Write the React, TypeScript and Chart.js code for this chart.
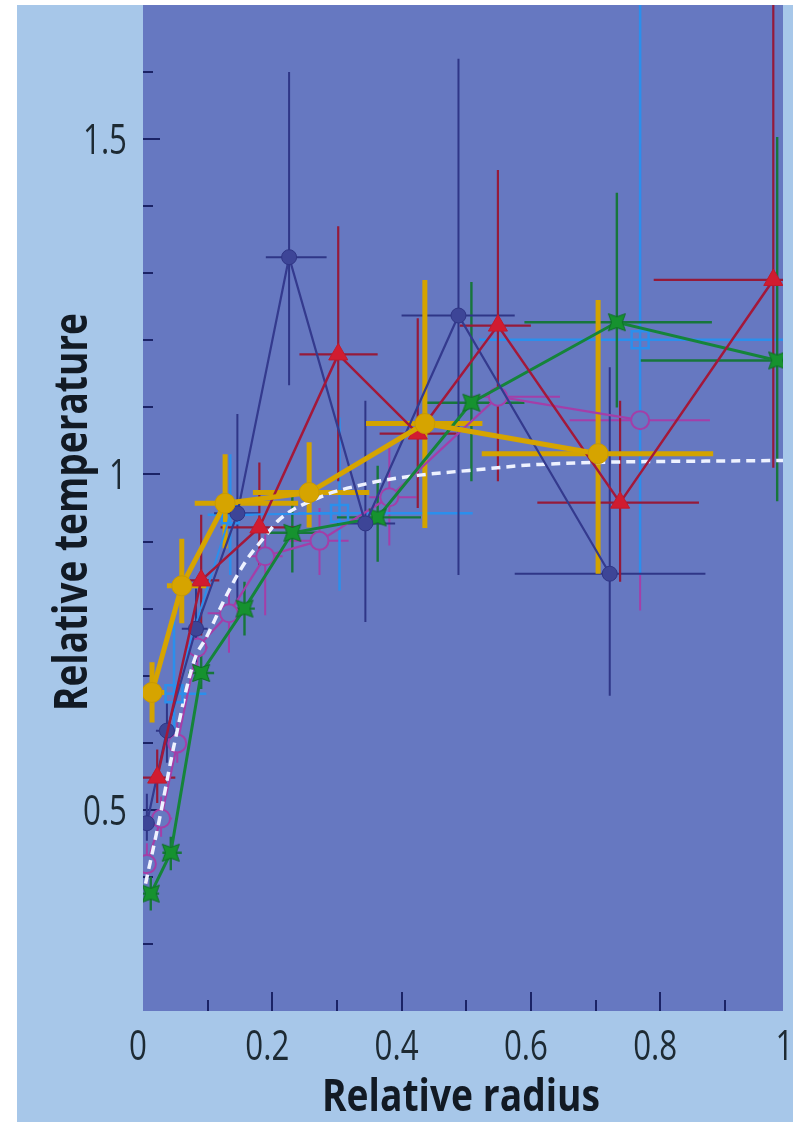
import { useEffect, useRef } from 'react';
import { Chart, registerables } from 'chart.js';

Chart.register(...registerables);

// Profile A (navy filled circles)
const navyR = [0.006, 0.037, 0.082, 0.146, 0.226, 0.344, 0.488, 0.722];
const navyT = [0.48, 0.618, 0.77, 0.942, 1.324, 0.927, 1.237, 0.852];
const navyRLo = [0.0, 0.02, 0.06, 0.11, 0.19, 0.3, 0.4, 0.575];
const navyRHi = [0.036, 0.055, 0.1, 0.18, 0.284, 0.39, 0.575, 0.87];
const navyTLo = [0.454, 0.57, 0.72, 0.81, 1.133, 0.78, 0.85, 0.67];
const navyTHi = [0.524, 0.66, 0.83, 1.09, 1.6, 1.11, 1.62, 1.16];

// Profile B (red triangles)
const redR = [0.022, 0.09, 0.18, 0.302, 0.425, 0.549, 0.738, 0.975];
const redT = [0.548, 0.842, 0.921, 1.179, 1.061, 1.222, 0.958, 1.29];
const redRLo = [0.0, 0.06, 0.12, 0.242, 0.366, 0.49, 0.61, 0.79];
const redRHi = [0.05, 0.118, 0.237, 0.363, 0.485, 0.6, 0.86, 1.02];
const redTLo = [0.51, 0.76, 0.864, 0.99, 0.95, 0.99, 0.84, 1.01];
const redTHi = [0.59, 0.94, 1.018, 1.37, 1.233, 1.454, 1.11, 1.75];

// Profile C (green stars)
const greenR = [0.012, 0.043, 0.09, 0.157, 0.231, 0.363, 0.508, 0.733, 0.981];
const greenT = [0.375, 0.436, 0.704, 0.8, 0.913, 0.936, 1.107, 1.227, 1.17];
const greenRLo = [0.0, 0.03, 0.07, 0.127, 0.19, 0.3, 0.435, 0.59, 0.77];
const greenRHi = [0.025, 0.06, 0.11, 0.173, 0.27, 0.43, 0.59, 0.88, 1.02];
const greenTLo = [0.35, 0.41, 0.68, 0.76, 0.854, 0.87, 0.99, 1.1, 0.96];
const greenTHi = [0.4, 0.46, 0.73, 0.84, 0.97, 1.013, 1.287, 1.42, 1.503];

// Profile D (yellow circles, heavy)
const goldR = [0.014, 0.06, 0.127, 0.257, 0.436, 0.704];
const goldT = [0.675, 0.834, 0.957, 0.973, 1.076, 1.031];
const goldRLo = [0.0, 0.037, 0.08, 0.17, 0.345, 0.524];
const goldRHi = [0.036, 0.098, 0.24, 0.35, 0.525, 0.882];
const goldTLo = [0.63, 0.778, 0.89, 0.921, 0.92, 0.852];
const goldTHi = [0.72, 0.904, 1.03, 1.048, 1.29, 1.26];

// Profile E (light blue open squares)
const skyR = [0.048, 0.135, 0.304, 0.769];
const skyT = [0.673, 0.94, 0.942, 1.201];
const skyRLo = [0.025, 0.1, 0.24, 0.52];
const skyRHi = [0.098, 0.17, 0.51, 1.02];
const skyTLo = [0.62, 0.85, 0.827, 0.85];
const skyTHi = [0.8, 1.03, 1.085, 1.8];

// Profile F (magenta open circles)
const plumR = [0.006, 0.028, 0.053, 0.084, 0.133, 0.189, 0.273, 0.381, 0.549, 0.769];
const plumT = [0.419, 0.487, 0.599, 0.742, 0.793, 0.878, 0.901, 0.966, 1.116, 1.081];
const plumRLo = [0.0, 0.012, 0.04, 0.065, 0.1, 0.164, 0.226, 0.35, 0.505, 0.66];
const plumRHi = [0.02, 0.045, 0.068, 0.1, 0.167, 0.216, 0.318, 0.423, 0.645, 0.877];
const plumTLo = [0.39, 0.46, 0.57, 0.7, 0.734, 0.79, 0.85, 0.894, 1.02, 0.797];
const plumTHi = [0.45, 0.52, 0.63, 0.78, 0.83, 0.91, 0.95, 1.04, 1.136, 1.494];

// Mean model profile (white dashed)
const modelR = [0.004, 0.025, 0.048, 0.079, 0.098, 0.133, 0.16, 0.19, 0.21, 0.273, 0.35, 0.428, 0.505, 0.614, 0.99];
const modelT = [0.39, 0.484, 0.596, 0.722, 0.757, 0.827, 0.872, 0.909, 0.932, 0.966, 0.987, 0.999, 1.006, 1.015, 1.021];

// Axis ticks
const xTickValues = [0, 0.1, 0.2, 0.3, 0.4, 0.5, 0.6, 0.7, 0.8, 0.9, 1.0];
const xTickLabels = ['0', '', '0.2', '', '0.4', '', '0.6', '', '0.8', '', '1'];
const yTickValues = [0.3, 0.4, 0.5, 0.6, 0.7, 0.8, 0.9, 1.0, 1.1, 1.2, 1.3, 1.4, 1.5, 1.6];
const yTickLabels = ['', '', '0.5', '', '', '', '', '1', '', '', '', '', '1.5', ''];

const xTitle = 'Relative radius';
const yTitle = 'Relative temperature';

const PAGE_BG = '#a7c7e9';
const PLOT_BG = '#6678c1';
const TICK_MARK = '#1b2366';
const TEXT_FAMILY = "'Open Sans', 'Noto Sans', 'DejaVu Sans', sans-serif";

type ErrorBars = { xLo: number[]; xHi: number[]; yLo: number[]; yHi: number[]; color: string; width: number };

function points(xs: number[], ys: number[]) {
  return xs.map((x, i) => ({ x, y: ys[i] }));
}

// Four-pointed star marker (points toward the corners, pinched sides)
function makeStar(fill: string, stroke: string, size: number) {
  const c = document.createElement('canvas');
  c.width = size;
  c.height = size;
  const g = c.getContext('2d')!;
  const m = size / 2;
  const outer = size / 2 - 1;
  const inner = outer * 0.45;
  g.beginPath();
  for (let k = 0; k < 8; k++) {
    const ang = Math.PI / 4 + (k * Math.PI) / 4;
    const rad = k % 2 === 0 ? outer : inner;
    const px = m + Math.cos(ang) * rad;
    const py = m + Math.sin(ang) * rad;
    if (k === 0) g.moveTo(px, py);
    else g.lineTo(px, py);
  }
  g.closePath();
  g.fillStyle = fill;
  g.fill();
  g.strokeStyle = stroke;
  g.lineWidth = 1;
  g.stroke();
  g.beginPath();
  g.rect(m - outer * 0.42, m - outer * 0.42, outer * 0.84, outer * 0.84);
  g.fillStyle = fill;
  g.fill();
  return c;
}

const backgroundPlugin = {
  id: 'panelBackground',
  beforeDraw(chart: any) {
    const { ctx, chartArea: a, width, height } = chart;
    ctx.save();
    ctx.fillStyle = PAGE_BG;
    ctx.fillRect(0, 0, width, height);
    ctx.fillStyle = PLOT_BG;
    ctx.fillRect(a.left, a.top, a.right - a.left, a.bottom - a.top);
    ctx.restore();
  },
};

// Tick marks point inward from the left and bottom edges of the panel
const innerTicksPlugin = {
  id: 'innerTicks',
  beforeDatasetsDraw(chart: any) {
    const { ctx, chartArea: a, scales } = chart;
    const x = scales.x;
    const y = scales.y;
    ctx.save();
    ctx.strokeStyle = TICK_MARK;
    ctx.lineWidth = 2;
    ctx.beginPath();
    yTickValues.forEach((v, i) => {
      if (v <= y.min + 1e-9 || v >= y.max - 1e-9) return;
      const len = yTickLabels[i] ? 17 : 10;
      const py = Math.round(y.getPixelForValue(v));
      ctx.moveTo(a.left, py);
      ctx.lineTo(a.left + len, py);
    });
    xTickValues.forEach((v, i) => {
      if (v <= x.min + 1e-9 || v >= x.max - 1e-9) return;
      const len = xTickLabels[i] ? 19 : 11;
      const px = Math.round(x.getPixelForValue(v));
      ctx.moveTo(px, a.bottom);
      ctx.lineTo(px, a.bottom - len);
    });
    ctx.stroke();
    ctx.restore();
  },
};

const errorBarPlugin = {
  id: 'errorBars',
  beforeDatasetsDraw(chart: any) {
    const { ctx, chartArea: a, scales } = chart;
    const x = scales.x;
    const y = scales.y;
    ctx.save();
    ctx.beginPath();
    ctx.rect(a.left, a.top, a.right - a.left, a.bottom - a.top);
    ctx.clip();
    const sets = [...chart.data.datasets].sort((p: any, q: any) => (q.order ?? 0) - (p.order ?? 0));
    sets.forEach((ds: any) => {
      const eb: ErrorBars | undefined = ds.errorBars;
      if (!eb) return;
      ctx.strokeStyle = eb.color;
      ctx.lineWidth = eb.width;
      ctx.lineCap = 'butt';
      ds.data.forEach((p: { x: number; y: number }, i: number) => {
        const px = x.getPixelForValue(p.x);
        const py = y.getPixelForValue(p.y);
        ctx.beginPath();
        ctx.moveTo(x.getPixelForValue(eb.xLo[i]), py);
        ctx.lineTo(x.getPixelForValue(eb.xHi[i]), py);
        ctx.moveTo(px, y.getPixelForValue(eb.yLo[i]));
        ctx.lineTo(px, y.getPixelForValue(eb.yHi[i]));
        ctx.stroke();
      });
    });
    ctx.restore();
  },
};

// Condensed axis lettering: each string is squeezed horizontally to its set width
function condensedText(ctx: CanvasRenderingContext2D, text: string, x: number, y: number, width: number, align: CanvasTextAlign, rotate = 0) {
  const w = ctx.measureText(text).width;
  ctx.save();
  ctx.translate(x, y);
  if (rotate) ctx.rotate(rotate);
  ctx.scale(width / w, 1);
  ctx.textAlign = align;
  ctx.textBaseline = 'alphabetic';
  ctx.fillText(text, 0, 0);
  ctx.restore();
}

const axisTextPlugin = {
  id: 'axisText',
  afterDraw(chart: any) {
    const { ctx, chartArea: a, scales } = chart;
    const x = scales.x;
    const y = scales.y;
    ctx.save();

    ctx.font = `400 42px ${TEXT_FAMILY}`;
    ctx.fillStyle = '#1d2a33';
    const squeeze = 44 / ctx.measureText('0.2').width;
    yTickValues.forEach((v, i) => {
      const label = yTickLabels[i];
      if (!label) return;
      const py = y.getPixelForValue(v);
      condensedText(ctx, label, a.left - 16, py + 15, ctx.measureText(label).width * squeeze, 'right');
    });
    xTickValues.forEach((v, i) => {
      const label = xTickLabels[i];
      if (!label) return;
      const px = x.getPixelForValue(v);
      condensedText(ctx, label, px - 5, a.bottom + 49, ctx.measureText(label).width * squeeze, 'center');
    });

    ctx.fillStyle = '#121a24';
    ctx.font = `700 44px ${TEXT_FAMILY}`;
    condensedText(ctx, xTitle, (a.left + a.right) / 2 - 2, a.bottom + 100, 278, 'center');
    ctx.font = `700 47px ${TEXT_FAMILY}`;
    condensedText(ctx, yTitle, a.left - 56, (a.top + a.bottom) / 2 + 4, 398, 'center', -Math.PI / 2);

    ctx.restore();
  },
};

export default function App() {
  const ref = useRef<HTMLCanvasElement>(null);

  useEffect(() => {
    if (!ref.current) return;
    const star = makeStar('#16922f', '#0e6e25', 26);

    const chart = new Chart(ref.current, {
      type: 'scatter',
      data: {
        datasets: [
          {
            label: 'Profile D',
            data: points(goldR, goldT),
            showLine: true,
            borderColor: '#d6a400',
            borderWidth: 5,
            pointStyle: 'circle',
            pointRadius: 10,
            pointBackgroundColor: '#d6a400',
            pointBorderColor: '#c99a00',
            pointBorderWidth: 1,
            order: 1,
            clip: 0,
            errorBars: { xLo: goldRLo, xHi: goldRHi, yLo: goldTLo, yHi: goldTHi, color: '#d3a300', width: 5 },
          } as any,
          {
            label: 'Profile B',
            data: points(redR, redT),
            showLine: true,
            borderColor: '#a3183a',
            borderWidth: 2.5,
            pointStyle: 'triangle',
            pointRadius: 11,
            pointBackgroundColor: '#d11c30',
            pointBorderColor: '#c01a2e',
            pointBorderWidth: 1,
            order: 2,
            clip: 0,
            errorBars: { xLo: redRLo, xHi: redRHi, yLo: redTLo, yHi: redTHi, color: '#951a3a', width: 2.2 },
          } as any,
          {
            label: 'Profile A',
            data: points(navyR, navyT),
            showLine: true,
            borderColor: '#343a8e',
            borderWidth: 2.2,
            pointStyle: 'circle',
            pointRadius: 7.5,
            pointBackgroundColor: '#3d4597',
            pointBorderColor: '#2f3585',
            pointBorderWidth: 1,
            order: 3,
            clip: 0,
            errorBars: { xLo: navyRLo, xHi: navyRHi, yLo: navyTLo, yHi: navyTHi, color: '#2f3687', width: 2 },
          } as any,
          {
            label: 'Profile C',
            data: points(greenR, greenT),
            showLine: true,
            borderColor: '#15843a',
            borderWidth: 3,
            pointStyle: star,
            pointRadius: 13,
            order: 4,
            clip: 0,
            errorBars: { xLo: greenRLo, xHi: greenRHi, yLo: greenTLo, yHi: greenTHi, color: '#17763c', width: 2.4 },
          } as any,
          {
            label: 'Profile E',
            data: points(skyR, skyT),
            showLine: true,
            borderColor: '#2b8fec',
            borderWidth: 2,
            segment: {
              borderColor: (c: any) => (c.p1DataIndex === 3 ? 'rgba(0,0,0,0)' : undefined),
            },
            pointStyle: 'rect',
            pointRadius: 12,
            pointBackgroundColor: 'rgba(0,0,0,0)',
            pointBorderColor: '#2b8fec',
            pointBorderWidth: 2.5,
            order: 5,
            clip: 0,
            errorBars: { xLo: skyRLo, xHi: skyRHi, yLo: skyTLo, yHi: skyTHi, color: '#2b8fec', width: 2.5 },
          } as any,
          {
            label: 'Mean profile',
            data: points(modelR, modelT),
            showLine: true,
            borderColor: '#eef2ff',
            borderWidth: 3.5,
            borderDash: [9, 6],
            tension: 0.35,
            cubicInterpolationMode: 'monotone',
            pointRadius: 0,
            order: 6,
            clip: 0,
          } as any,
          {
            label: 'Profile F',
            data: points(plumR, plumT),
            showLine: true,
            borderColor: '#a43ea8',
            borderWidth: 2.2,
            pointStyle: 'circle',
            pointRadius: 9,
            pointBackgroundColor: PLOT_BG,
            pointBorderColor: '#a43ea8',
            pointBorderWidth: 2,
            order: 7,
            clip: 0,
            errorBars: { xLo: plumRLo, xHi: plumRHi, yLo: plumTLo, yHi: plumTHi, color: '#a43ea8', width: 2 },
          } as any,
        ],
      },
      options: {
        responsive: false,
        animation: false,
        events: [],
        layout: { autoPadding: false, padding: { left: 0, top: 0, right: 10, bottom: 0 } },
        plugins: {
          legend: { display: false },
          tooltip: { enabled: false },
        },
        scales: {
          x: {
            type: 'linear',
            min: 0,
            max: 0.99,
            afterBuildTicks: (s: any) => {
              s.ticks = xTickValues.map((value) => ({ value }));
            },
            afterFit: (s: any) => {
              s.height = 111;
              s.paddingLeft = 0;
              s.paddingRight = 0;
            },
            grid: { display: false, drawTicks: false, tickLength: 0 },
            border: { display: false },
            ticks: { display: false },
            title: { display: false, text: xTitle },
          },
          y: {
            type: 'linear',
            min: 0.2,
            max: 1.7,
            afterBuildTicks: (s: any) => {
              s.ticks = yTickValues.map((value) => ({ value }));
            },
            afterFit: (s: any) => {
              s.width = 126;
              s.paddingTop = 0;
              s.paddingBottom = 0;
            },
            grid: { display: false, drawTicks: false, tickLength: 0 },
            border: { display: false },
            ticks: { display: false },
            title: { display: false, text: yTitle },
          },
        },
      },
      plugins: [backgroundPlugin, innerTicksPlugin, errorBarPlugin, axisTextPlugin],
    } as any);

    return () => chart.destroy();
  }, []);

  return (
    <div
      style={{
        position: 'fixed',
        left: 0,
        top: 0,
        width: 793,
        height: 1122,
        background: '#ffffff',
        overflow: 'hidden',
      }}
    >
      <canvas
        ref={ref}
        width={776}
        height={1117}
        style={{ position: 'absolute', left: 17, top: 5, width: 776, height: 1117 }}
      />
    </div>
  );
}
